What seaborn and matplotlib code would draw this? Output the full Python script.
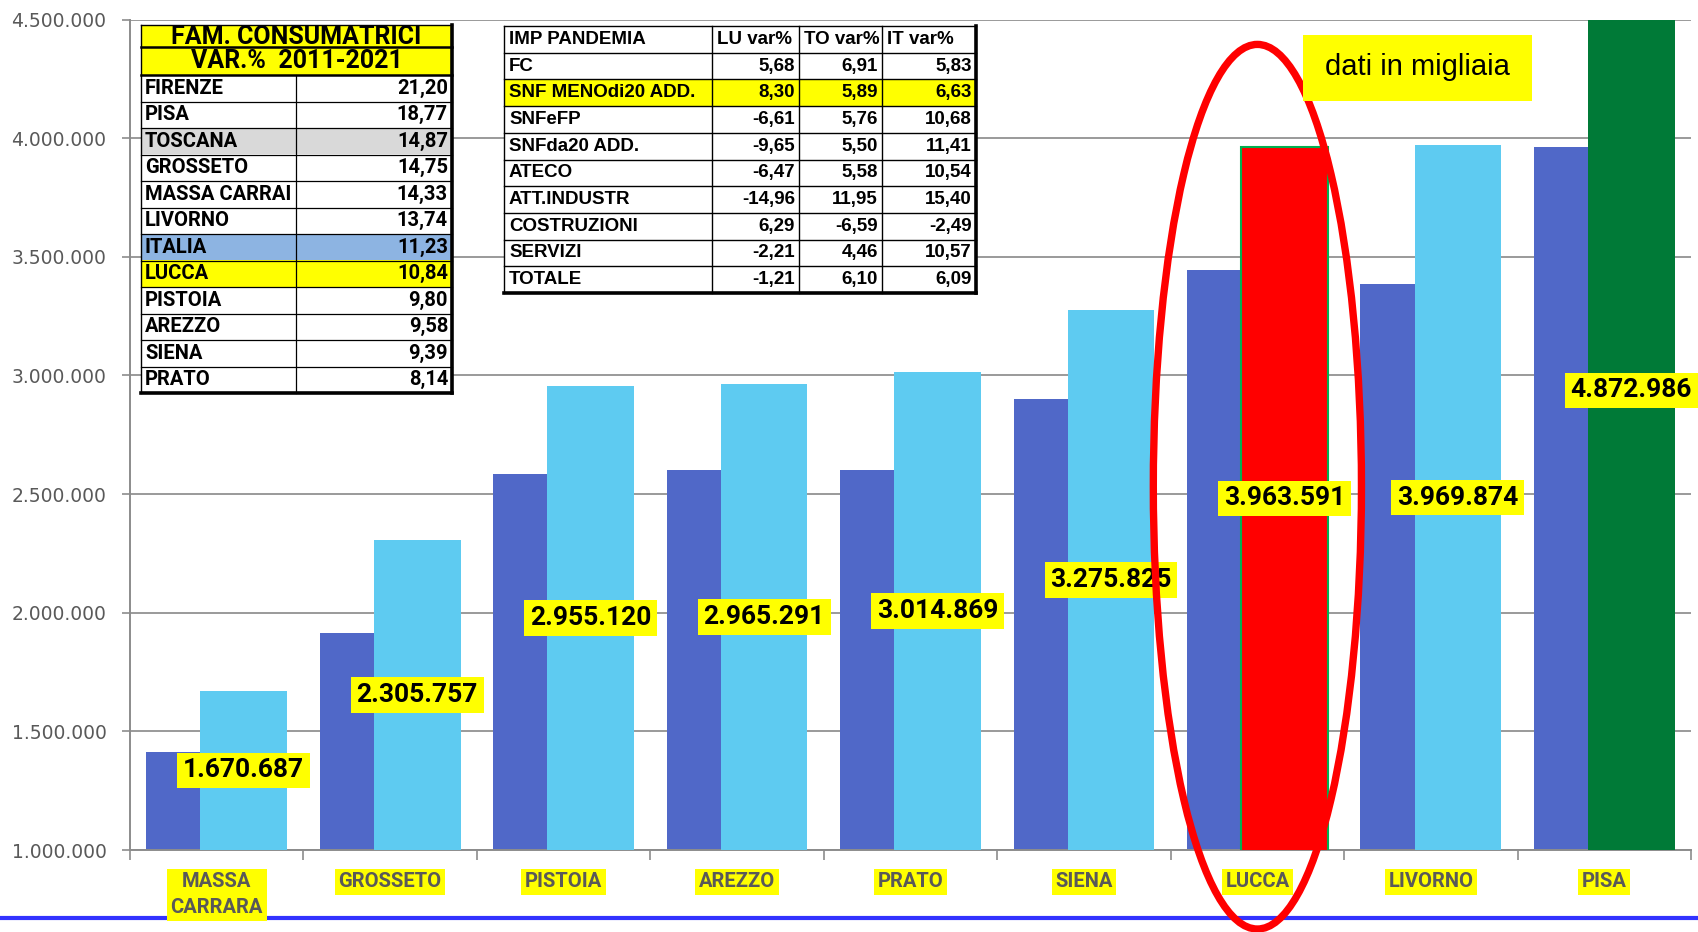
import matplotlib
matplotlib.use('Agg')
import matplotlib.pyplot as plt
from matplotlib.patches import Ellipse, Rectangle
from matplotlib.lines import Line2D
from matplotlib.ticker import MultipleLocator, FuncFormatter
from matplotlib.colors import to_hex
import seaborn as sns
import pandas as pd

# Famiglie consumatrici per provincia (dati in migliaia)
province = ['MASSA\nCARRARA', 'GROSSETO', 'PISTOIA', 'AREZZO', 'PRATO',
            'SIENA', 'LUCCA', 'LIVORNO', 'PISA']
fam_2011 = [1412000, 1914000, 2585000, 2603000, 2601000, 2899000, 3443000, 3387000, 3964000]
fam_2021 = [1670687, 2305757, 2955120, 2965291, 3014869, 3275825, 3963591, 3969874, 4872986]
colori_2021 = ['#5ECBF1'] * 6 + ['#FF0000', '#5ECBF1', '#007A37']

# Tabella var.% 2011-2021
var_nomi = ['FIRENZE', 'PISA', 'TOSCANA', 'GROSSETO', 'MASSA CARRAI', 'LIVORNO',
            'ITALIA', 'LUCCA', 'PISTOIA', 'AREZZO', 'SIENA', 'PRATO']
var_valori = [21.20, 18.77, 14.87, 14.75, 14.33, 13.74, 11.23, 10.84, 9.80, 9.58, 9.39, 8.14]
var_colori = {'TOSCANA': '#D9D9D9', 'ITALIA': '#8DB4E2', 'LUCCA': '#FFFF00'}

# Tabella impatto pandemia
pand_colonne = ['IMP PANDEMIA', 'LU var%', 'TO var%', 'IT var%']
pand_voci = ['FC', 'SNF MENOdi20 ADD.', 'SNFeFP', 'SNFda20 ADD.', 'ATECO',
             'ATT.INDUSTR', 'COSTRUZIONI', 'SERVIZI', 'TOTALE']
pand_lu = [5.68, 8.30, -6.61, -9.65, -6.47, -14.96, 6.29, -2.21, -1.21]
pand_to = [6.91, 5.89, 5.76, 5.50, 5.58, 11.95, -6.59, 4.46, 6.10]
pand_it = [5.83, 6.63, 10.68, 11.41, 10.54, 15.40, -2.49, 10.57, 6.09]

FONT_B = 'Roboto'


def migliaia(v):
    return f"{int(round(v)):,}".replace(',', '.')


def virgola(v):
    return f"{v:.2f}".replace('.', ',')


W, H = 1698, 932
sns.set_theme(style='white')
fig = plt.figure(figsize=(W / 100, H / 100), dpi=100)
ax = fig.add_axes([130 / W, 1 - 850 / H, 1561 / W, 830.5 / H])

df = pd.DataFrame({'Provincia': province, 'Fam2011': fam_2011, 'Fam2021': fam_2021})

off = 0.156
sns.barplot(data=df, x='Provincia', y='Fam2011', color='#5068C8', saturation=1,
            width=0.5, errorbar=None, ax=ax, zorder=2, linewidth=0)
n = len(ax.patches)
for p in ax.patches:
    p.set_x(p.get_x() - off)
sns.barplot(data=df, x='Provincia', y='Fam2021', hue='Provincia', palette=colori_2021,
            saturation=1, width=0.5, errorbar=None, legend=False, ax=ax, zorder=3, linewidth=0)
for p in ax.patches[n:]:
    p.set_x(p.get_x() + off)
    if to_hex(p.get_facecolor()) == '#ff0000':
        p.set_edgecolor('#00B050')
        p.set_linewidth(1.5)

# etichette valori
for i, v in enumerate(fam_2021):
    ax.text(i + off, (1_000_000 + v) / 2, migliaia(v), ha='center', va='center',
            fontsize=19, fontweight='bold', fontfamily=FONT_B, color='black', zorder=5,
            bbox=dict(facecolor='#FFFF00', edgecolor='none', boxstyle='square,pad=0.22'))

ax.set_ylim(1_000_000, 4_500_000)
ax.set_xlim(-0.5, 8.5)
ax.set_xlabel('')
ax.set_ylabel('')
ax.yaxis.set_major_locator(MultipleLocator(500000))
ax.yaxis.set_major_formatter(FuncFormatter(lambda v, _: migliaia(v)))
ax.grid(axis='y', color='#9A9A9A', lw=1.4)
ax.set_axisbelow(True)
for s in ['top', 'right']:
    ax.spines[s].set_visible(False)
for s in ['left', 'bottom']:
    ax.spines[s].set_color('#8C8C8C')
    ax.spines[s].set_linewidth(1.4)

ax.tick_params(axis='y', left=True, length=6, width=1.2, color='#8C8C8C',
               labelsize=13.5, labelcolor='#595959', pad=11)
ax.set_xticks(range(len(province)))
ax.set_xticklabels(province, fontfamily=FONT_B, fontweight='bold', fontsize=14.5,
                   color='#595959', linespacing=1.45)
ax.set_xticks([i - 0.5 for i in range(len(province) + 1)], minor=True)
ax.tick_params(axis='x', which='major', length=0, pad=16)
ax.tick_params(axis='x', which='minor', bottom=True, length=7, width=1.2, color='#8C8C8C')
for lbl in ax.get_xticklabels():
    lbl.set_bbox(dict(facecolor='#FFFF00', edgecolor='none', boxstyle='square,pad=0.18'))

# ellisse su Lucca
ax.add_patch(Ellipse((6, 2.531e6), width=1.2, height=3.728e6, fill=False,
                     edgecolor='#FF0000', lw=5.3, zorder=6, clip_on=False))

# linea blu in basso
fig.add_artist(Line2D([0, 1], [1 - 918 / H] * 2, transform=fig.transFigure,
                      color='#3333FF', lw=3, zorder=-1))


def fx(x):
    return x / W


def fy(y):
    return 1 - y / H


def cella(x0, x1, y0, y1, colore):
    fig.add_artist(Rectangle((fx(x0), fy(y1)), (x1 - x0) / W, (y1 - y0) / H,
                             transform=fig.transFigure, facecolor=colore,
                             edgecolor='none', zorder=3))


def linea(x0, y0, x1, y1, lw=0.9):
    fig.add_artist(Line2D([fx(x0), fx(x1)], [fy(y0), fy(y1)], transform=fig.transFigure,
                          color='black', lw=lw, zorder=4, solid_capstyle='projecting'))


def testo(x, y, s, ha, size, family):
    fig.text(fx(x), fy(y), s, ha=ha, va='center', fontsize=size, fontweight='bold',
             fontfamily=family, color='black', zorder=5)


# tabella sinistra
xl = [141, 296, 452]
y_top, y_h1, y_h2 = 25, 47, 75
rh = (393 - y_h2) / len(var_nomi)
cella(xl[0], xl[2], y_top, y_h2, '#FFFF00')
testo((xl[0] + xl[2]) / 2, (y_top + y_h1) / 2 + 1, 'FAM. CONSUMATRICI', 'center', 18, FONT_B)
testo((xl[0] + xl[2]) / 2, (y_h1 + y_h2) / 2, 'VAR.%  2011-2021', 'center', 18, FONT_B)
for k, (nome, val) in enumerate(zip(var_nomi, var_valori)):
    y0 = y_h2 + k * rh
    cella(xl[0], xl[2], y0, y0 + rh, var_colori.get(nome, 'white'))
    testo(xl[0] + 4, y0 + rh / 2, nome, 'left', 14.5, FONT_B)
    testo(xl[2] - 4, y0 + rh / 2, virgola(val), 'right', 14.5, FONT_B)
    if k > 0:
        linea(xl[0], y0, xl[2], y0, 0.9)
y_bot = y_h2 + len(var_nomi) * rh
linea(xl[0], y_top, xl[2], y_top, 1.0)
linea(xl[0], y_h1, xl[2], y_h1, 1.8)
linea(xl[0], y_h2, xl[2], y_h2, 1.8)
linea(xl[1], y_h2, xl[1], y_bot, 0.9)
linea(xl[0], y_top, xl[0], y_bot, 1.0)
linea(xl[2], y_top, xl[2], y_bot, 2.6)
linea(xl[0], y_bot, xl[2], y_bot, 2.6)

# tabella destra
xr = [504, 712, 799, 882, 976]
yr0 = 26
rr = (293 - yr0) / (len(pand_voci) + 1)
cella(xr[0], xr[-1], yr0, 293, 'white')
for j, c in enumerate(pand_colonne):
    testo(xr[j] + 5, yr0 + rr / 2, c, 'left', 13.5, 'Liberation Sans')
for k, voce in enumerate(pand_voci):
    y0 = yr0 + (k + 1) * rr
    if voce == 'SNF MENOdi20 ADD.':
        cella(xr[0], xr[-1], y0, y0 + rr, '#FFFF00')
    testo(xr[0] + 5, y0 + rr / 2, voce, 'left', 13.5, 'Liberation Sans')
    for j, serie in enumerate([pand_lu, pand_to, pand_it]):
        testo(xr[j + 2] - 4, y0 + rr / 2, virgola(serie[k]), 'right', 13.5, 'Liberation Sans')
for k in range(len(pand_voci) + 1):
    linea(xr[0], yr0 + k * rr, xr[-1], yr0 + k * rr, 1.0)
for x in xr[:-1]:
    linea(x, yr0, x, 293, 1.0)
linea(xr[-1], yr0, xr[-1], 293, 2.6)
linea(xr[0], 293, xr[-1], 293, 2.6)

# riquadro "dati in migliaia"
fig.add_artist(Rectangle((fx(1303), fy(101)), 229 / W, 66 / H, transform=fig.transFigure,
                         facecolor='#FFFF00', edgecolor='none', zorder=3))
fig.text(fx(1417), fy(67), 'dati in migliaia', ha='center', va='center', fontsize=21,
         fontfamily='Liberation Sans', color='black', zorder=4)

fig.savefig('out.png', dpi=100)
